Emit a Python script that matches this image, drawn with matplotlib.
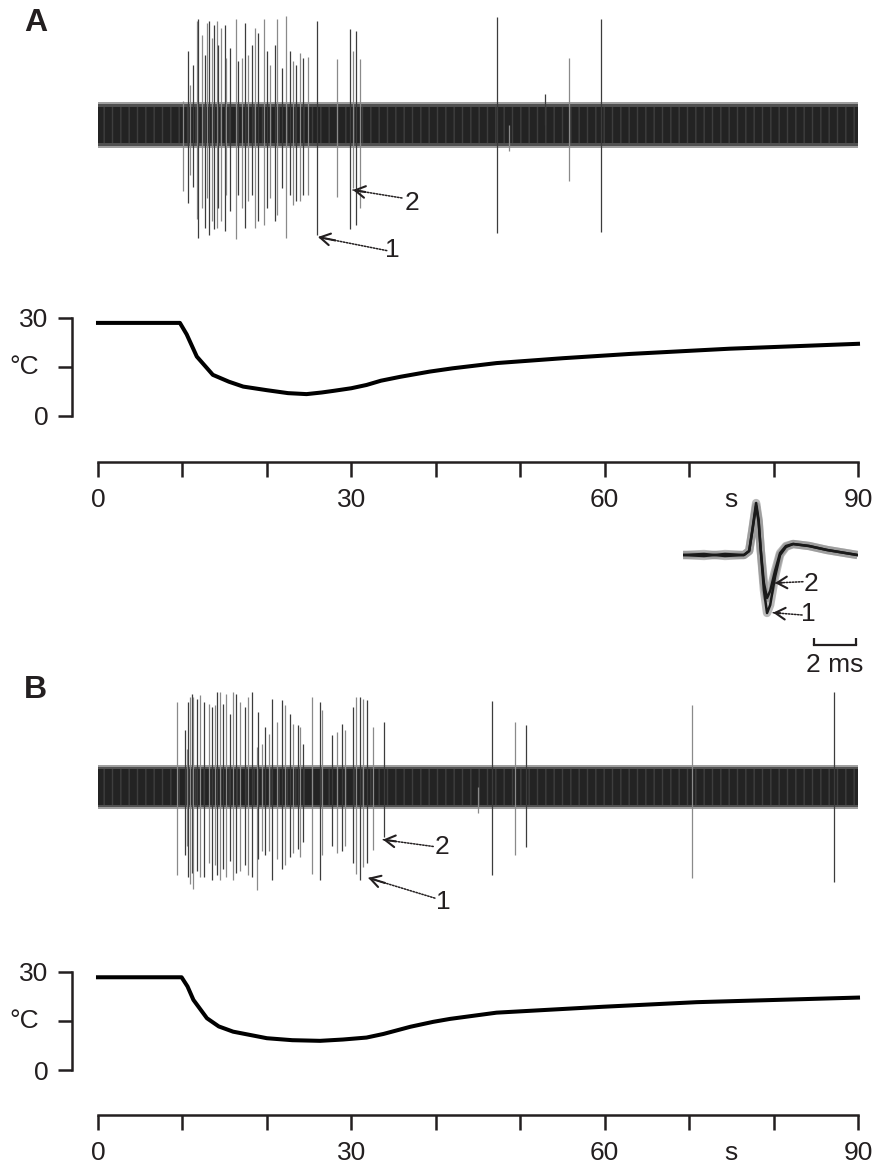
"""Cooling-evoked firing: raw trace, bath temperature and spike overlay (panels A, B)."""
import matplotlib
matplotlib.use("Agg")
import matplotlib.pyplot as plt

plt.rcParams["font.family"] = ["Liberation Sans", "DejaVu Sans"]
plt.rcParams["hatch.linewidth"] = 1.0

W, H = 874, 1165
INK = "#231f20"
FS = 19

# --- panel A: spike times (s) and peak / trough amplitudes (noise units)
SPIKE_T_A = [10.1, 10.7, 10.9, 11.3, 11.7, 11.9, 12.3, 12.7, 12.9, 13.1, 13.5, 13.7,
             14.1, 14.2, 14.6, 15.0, 15.2, 15.6, 16.3, 16.6, 17.0, 17.4, 17.8, 18.2,
             18.6, 19.0, 19.6, 20.0, 20.4, 21.0, 21.2, 21.8, 22.3, 22.7, 23.1, 23.5,
             23.9, 24.3, 24.9, 25.9, 28.3, 29.8, 30.2, 30.6, 31.0,
             47.3, 48.7, 52.9, 55.8, 59.6]
SPIKE_UP_A = [1.2, 3.7, 2.0, 3.0, 5.2, 5.3, 4.5, 3.5, 5.1, 5.2, 4.35, 5.0,
              5.2, 4.0, 4.85, 5.0, 3.35, 3.85, 5.3, 3.2, 3.35, 5.1, 3.5, 4.0,
              4.85, 4.6, 5.3, 3.7, 3.0, 4.0, 5.3, 2.85, 5.43, 3.7, 3.2, 3.0,
              3.6, 3.35, 3.4, 5.2, 3.3, 4.8, 3.7, 4.7, 3.3,
              5.4, 0.0, 1.55, 3.35, 5.3]
SPIKE_DOWN_A = [3.3, 3.9, 2.5, 3.1, 4.7, 5.65, 4.15, 5.15, 3.65, 5.5, 4.8, 5.2,
                5.15, 4.15, 4.8, 5.3, 3.5, 4.3, 5.7, 3.5, 4.15, 5.15, 3.8, 3.5,
                5.15, 4.8, 4.98, 4.15, 3.65, 4.8, 4.5, 3.15, 5.65, 3.5, 4.0, 3.8,
                3.8, 3.5, 3.5, 5.5, 3.6, 5.2, 3.15, 4.98, 4.15,
                5.4, 1.3, 0.0, 2.8, 5.35]

# --- panel B
SPIKE_T_B = [9.3, 10.3, 10.5, 10.7, 10.9, 11.1, 11.3, 11.7, 12.1, 12.5, 13.1, 13.5,
             13.9, 14.05, 14.45, 14.8, 15.2, 15.6, 16.0, 16.4, 16.8, 17.4, 17.8, 18.2,
             18.8, 19.0, 19.4, 19.8, 20.2, 20.6, 21.2, 21.75, 22.15, 22.7, 23.1, 23.7,
             23.9, 24.3, 25.3, 26.3, 26.5, 27.7, 28.3, 28.9, 29.3, 30.2, 30.6, 31.0,
             31.4, 31.8, 32.6, 33.9,
             45.0, 46.7, 49.4, 50.7, 70.3, 87.2]
SPIKE_UP_B = [4.36, 2.9, 1.97, 4.36, 4.62, 4.79, 4.62, 4.53, 4.7, 4.36, 4.27, 4.1,
              4.19, 4.87, 4.87, 4.27, 4.79, 3.76, 4.87, 4.79, 4.36, 4.1, 4.62, 4.87,
              2.05, 3.85, 2.22, 3.08, 2.74, 4.53, 3.33, 4.44, 4.19, 3.76, 3.25, 3.16,
              3.08, 2.22, 4.62, 4.36, 3.93, 2.65, 2.82, 3.25, 2.9, 4.1, 4.62, 4.62,
              4.53, 4.44, 3.08, 3.33,
              0.0, 4.4, 3.35, 3.2, 4.2, 4.85]
SPIKE_DOWN_B = [4.53, 3.5, 3.0, 4.62, 4.96, 4.4, 5.21, 4.3, 4.6, 4.62, 3.9, 4.79,
                4.0, 4.5, 4.79, 4.2, 4.6, 3.8, 4.79, 4.4, 4.3, 4.0, 4.5, 4.6,
                5.3, 3.7, 3.3, 3.5, 3.3, 4.79, 3.7, 4.2, 4.0, 3.6, 3.4, 3.2,
                3.6, 2.8, 4.44, 4.79, 3.5, 3.0, 3.4, 3.3, 3.0, 3.9, 4.44, 4.79,
                4.1, 3.9, 3.25, 2.56,
                1.35, 4.5, 3.5, 3.1, 4.65, 4.85]

# --- bath temperature (°C)
TEMP_T_A = [0, 9.7, 10.5, 11.7, 13.6, 15.5, 17.2, 20, 22.5, 24.7, 26.5, 27.9,
            30, 31.8, 33.5, 35.8, 39.3, 42, 47.2, 55.1, 63, 74.8, 90]
TEMP_A = [28.5, 28.5, 25.0, 18.2, 12.6, 10.5, 9.0, 7.9, 7.0, 6.7, 7.2, 7.7,
          8.5, 9.5, 10.8, 12.0, 13.6, 14.6, 16.2, 17.7, 19.0, 20.6, 22.1]
TEMP_T_B = [0, 9.9, 10.6, 11.3, 12.9, 14.3, 16, 20, 23, 26.3, 29, 31.8,
            33.8, 37, 39.7, 41.7, 47.2, 59.8, 70.9, 90]
TEMP_B = [28.3, 28.3, 25.5, 21.4, 15.8, 13.3, 11.7, 9.7, 9.1, 8.9, 9.3, 9.9,
          11.0, 13.2, 14.7, 15.6, 17.5, 19.3, 20.7, 22.1]

# --- spike overlay (ms, amplitude in arbitrary units)
WF_T = [0.0, 1.0, 2.0, 2.9, 3.15, 3.3, 3.48, 3.6, 3.7, 3.85, 4.0, 4.15,
        4.38, 4.62, 4.9, 5.24, 6.0, 6.86, 8.3]
WF_1 = [0, 1, -1, 0, 4, 25, 52, 35, 5, -35, -58, -50, -22, 0, 8, 11, 9, 5, 0]
WF_2 = [0, -1, 1, 0, 4, 24, 49, 33, 5, -28, -43, -36, -16, 2, 9, 11, 9, 5, 0]

TIME_TICKS = list(range(0, 91, 10))
TIME_LABELS = ["0", "", "", "30", "", "", "60", "", "", "90"]
TEMP_TICKS = [0, 15, 30]
TEMP_LABELS = ["0", "", "30"]


def px_axes(fig, left, top, right, bottom):
    return fig.add_axes([left / W, 1 - bottom / H, (right - left) / W, (bottom - top) / H])


def dotted_arrow(ax, tip, tail, label, label_xy):
    ax.annotate("", xy=tip, xytext=tail,
                arrowprops=dict(arrowstyle="-", ls=(0, (1, 1)), lw=1.1, color=INK,
                                shrinkA=0, shrinkB=0))
    back = (tip[0] + 0.25 * (tail[0] - tip[0]), tip[1] + 0.25 * (tail[1] - tip[1]))
    ax.annotate("", xy=tip, xytext=back,
                arrowprops=dict(arrowstyle="->,head_length=0.6,head_width=0.35",
                                lw=1.5, color=INK, shrinkA=0, shrinkB=0,
                                mutation_scale=12))
    ax.text(label_xy[0], label_xy[1], label, fontsize=FS, color=INK,
            ha="left", va="center")


def draw_spikes(ax, times, ups, downs, noise):
    # noise band: light fuzz, mid edge, striped dark core
    ax.fill_between([0, 90], -noise * 1.15, noise * 1.15, color="#a0a0a0", lw=0)
    ax.fill_between([0, 90], -noise * 1.05, noise * 1.05, color="#505050", lw=0)
    ax.fill_between([0, 90], -noise * 0.9, noise * 0.9, facecolor="#232323",
                    edgecolor="#3e3e3e", hatch="||", lw=0)
    cols = ["#8a8a8a" if i % 2 == 0 else "#3c3c3c" for i in range(len(times))]
    ax.vlines(times, [-d for d in downs], ups, colors=cols, lw=0.9)
    ax.set_xlim(0, 90)
    ax.set_ylim(-6, 6)
    ax.axis("off")


def draw_temp(ax, t, temp):
    ax.plot(t, temp, color="black", lw=2.9, clip_on=False)
    ax.set_xlim(0, 90)
    ax.set_ylim(0, 30)
    for s in ["top", "right", "bottom"]:
        ax.spines[s].set_visible(False)
    ax.spines["left"].set_position(("outward", 18.7))
    ax.spines["left"].set_linewidth(1.8)
    ax.spines["left"].set_color(INK)
    ax.set_xticks([])
    ax.set_yticks(TEMP_TICKS)
    ax.set_yticklabels(TEMP_LABELS)
    ax.tick_params(axis="y", direction="out", length=10, width=1.8, color=INK,
                   labelsize=FS, labelcolor=INK, pad=7)
    ax.annotate("°C", xy=(0, 15), xycoords=("axes fraction", "data"),
                xytext=(-42.5, 0), textcoords="offset points",
                ha="right", va="center", fontsize=FS, color=INK)
    ax.patch.set_visible(False)


def draw_time(ax):
    for s in ["top", "right", "left"]:
        ax.spines[s].set_visible(False)
    ax.spines["bottom"].set_linewidth(1.8)
    ax.spines["bottom"].set_color(INK)
    ax.set_xlim(0, 90)
    ax.set_yticks([])
    ax.set_xticks(TIME_TICKS)
    ax.set_xticklabels(TIME_LABELS)
    ax.set_xticks([75], minor=True)
    ax.set_xticklabels(["s"], minor=True)
    ax.tick_params(axis="x", which="major", direction="out", length=10.8, width=1.8,
                   color=INK, labelsize=FS, labelcolor=INK, pad=8)
    ax.tick_params(axis="x", which="minor", length=0, labelsize=FS,
                   labelcolor=INK, pad=18.8)
    ax.patch.set_visible(False)


def main():
    fig = plt.figure(figsize=(W / 100, H / 100), dpi=100)

    # panel A
    ax = px_axes(fig, 98, 5, 858, 245)
    draw_spikes(ax, SPIKE_T_A, SPIKE_UP_A, SPIKE_DOWN_A, 1.0)
    dotted_arrow(ax, (30.2, -3.25), (36.0, -3.65), "2", (36.3, -3.9))
    dotted_arrow(ax, (26.05, -5.6), (34.2, -6.28), "1", (34.0, -6.25))
    draw_temp(px_axes(fig, 98, 318, 858, 416), TEMP_T_A, TEMP_A)
    draw_time(px_axes(fig, 98, 430, 858, 462))

    # spike overlay inset
    ax = px_axes(fig, 683, 490, 858, 655)
    for wf in (WF_1, WF_2):
        ax.plot(WF_T, wf, color="#8c8c8c", lw=6, alpha=0.6, solid_capstyle="butt")
    for wf in (WF_1, WF_2):
        ax.plot(WF_T, wf, color="#1a1a1a", lw=1.8)
    ax.set_xlim(0, 8.33)
    ax.set_ylim(-100, 65)
    ax.axis("off")
    ax.plot([6.24, 8.24], [-90, -90], color=INK, lw=1.6, clip_on=False)
    ax.vlines([6.24, 8.24], -90, -83, color=INK, lw=1.6, clip_on=False)
    ax.text(7.24, -110, "2 ms", fontsize=FS, color=INK, ha="center", va="center")
    dotted_arrow(ax, (4.38, -28), (5.71, -26.7), "2", (5.75, -29))
    dotted_arrow(ax, (4.29, -57.7), (5.67, -60), "1", (5.62, -59))

    # panel B
    ax = px_axes(fig, 98, 670, 858, 904)
    draw_spikes(ax, SPIKE_T_B, SPIKE_UP_B, SPIKE_DOWN_B, 1.0)
    dotted_arrow(ax, (33.75, -2.7), (39.7, -3.05), "2", (39.9, -3.1))
    dotted_arrow(ax, (32.0, -4.66), (39.9, -5.7), "1", (40.0, -5.88))
    draw_temp(px_axes(fig, 98, 971.7, 858, 1070), TEMP_T_B, TEMP_B)
    draw_time(px_axes(fig, 98, 1080, 858, 1115))

    fig.text(24 / W, 1 - 23 / H, "A", fontsize=23, fontweight="bold", color=INK,
             ha="left", va="center")
    fig.text(24 / W, 1 - 690 / H, "B", fontsize=23, fontweight="bold", color=INK,
             ha="left", va="center")

    fig.savefig("out.png", dpi=100)
    plt.close(fig)


if __name__ == "__main__":
    main()
